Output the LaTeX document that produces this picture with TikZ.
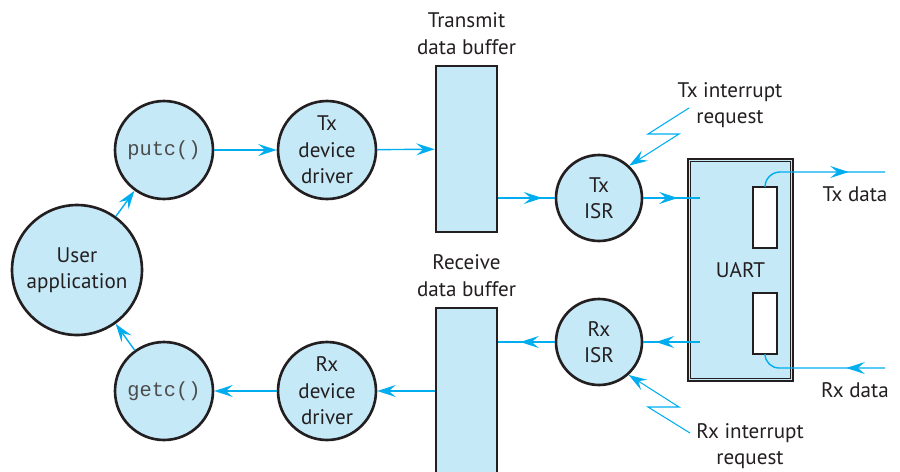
\documentclass[tikz,border=0pt]{standalone}
\usepackage{fontspec}
\setmainfont{PT Sans}
\setmonofont{Liberation Mono}
\usepackage{tikz}
\usetikzlibrary{positioning, arrows.meta, calc, decorations.markings}
\definecolor{fillblue}{HTML}{C6E9F8}
\definecolor{wireblue}{HTML}{00AEEF}
\definecolor{ink}{HTML}{231F20}

\begin{document}
\begin{tikzpicture}[x=0.02cm, y=-0.02cm,
      font=\fontsize{12}{15}\selectfont,
      proc/.style={circle, draw=ink, line width=1.5pt, fill=fillblue,
        minimum size=1.96cm, inner sep=0pt, align=center, text=ink},
      isr/.style={proc, minimum size=1.72cm},
      buf/.style={rectangle, draw=ink, line width=1.4pt, fill=fillblue,
        minimum width=1.22cm, minimum height=3.32cm},
      slot/.style={rectangle, draw=ink, line width=1pt, fill=white,
        minimum width=0.48cm, minimum height=1.22cm, inner sep=0pt},
      fn/.style={font=\fontsize{11.6}{14}\ttfamily, text=black!70},
      lbl/.style={align=center, inner sep=0pt, text=ink},
      cyanline/.style={line width=0.8pt, color=wireblue},
      arrow/.style={-{Stealth[length=3.7mm, width=2.4mm, inset=1.4mm]},
        cyanline},
      midarrow/.style={cyanline, postaction={decorate},
        decoration={markings, mark=at position #1 with
          {\arrow{Stealth[length=3.7mm, width=2.4mm, inset=1.4mm]}}}}]

    \useasboundingbox (0,0) rectangle (900,471);

    \node[proc, minimum size=2.6cm] (app) at (77,270) {User\\application};
    \node[proc, fn] (putc) at (164,150) {putc()};
    \node[proc] (txdrv) at (327,150) {Tx\\device\\driver};
    \node[proc, fn] (getc) at (164,391) {getc()};
    \node[proc] (rxdrv) at (327,391) {Rx\\device\\driver};

    \node[buf] (txbuf) at (466.5,149) {};
    \node[buf] (rxbuf) at (466.5,391) {};
    \node[lbl, above=0.2cm of txbuf] (txbuflbl) {Transmit\\data buffer};
    \node[lbl, above=0.2cm of rxbuf] (rxbuflbl) {Receive\\data buffer};

    \node[isr] (txisr) at (599,198) {Tx\\ISR};
    \node[isr] (rxisr) at (599,342) {Rx\\ISR};

    \node[rectangle, draw=ink, line width=1.5pt, fill=fillblue,
      minimum width=2.1cm, minimum height=4.44cm, text=ink] (uart) at (740.5,270) {UART};
    \draw[ink, line width=0.6pt] ([shift={(4,4)}]uart.north west)
      rectangle ([shift={(-4,-4)}]uart.south east);
    \node[slot] (txslot) at (765,217.5) {};
    \node[slot] (rxslot) at (765,323.5) {};

    \coordinate (uarttx) at ($(uart.west |- txisr)+(13,0)$);
    \coordinate (uartrx) at ($(uart.west |- rxisr)+(13,0)$);
    \coordinate (txout) at (885,172);
    \coordinate (rxin) at (885,368);
    \coordinate (txzap) at (689,108);
    \coordinate (rxzap) at (690,433);

    \node[lbl] (txdata) at (855,194) {Tx data};
    \node[lbl] (rxdata) at (855,390) {Rx data};
    \node[lbl] (txirq) at (730,105) {Tx interrupt\\request};
    \node[lbl] (rxirq) at (750,446) {Rx interrupt\\request};

    \draw[arrow] (app) -- (putc);
    \draw[arrow] (getc) -- (app);
    \draw[arrow] (putc) -- (txdrv);
    \draw[arrow] (txdrv) -- (txbuf);
    \draw[midarrow=0.78] (txbuf.east |- txisr) -- (txisr);
    \draw[midarrow=0.61] (txisr) -- (uarttx);
    \draw[midarrow=0.78] (uartrx) -- (rxisr);
    \draw[midarrow=0.61] (rxisr) -- (rxbuf.east |- rxisr);
    \draw[arrow] (rxbuf.west |- rxdrv) -- (rxdrv);
    \draw[arrow] (rxdrv) -- (getc);

    \draw[midarrow=0.72, rounded corners=0.3cm] (txslot.north) |- (txout);
    \draw[midarrow=0.3, rounded corners=0.28cm] (rxin) -| (rxslot.south);

    \draw[arrow, line width=0.6pt] (txzap) -- (648,134) -- (679,134) -- (txisr.47);
    \draw[arrow, line width=0.6pt] (rxzap) -- (648,407) -- (679,407) -- (rxisr.-48);
  \end{tikzpicture}
\end{document}
